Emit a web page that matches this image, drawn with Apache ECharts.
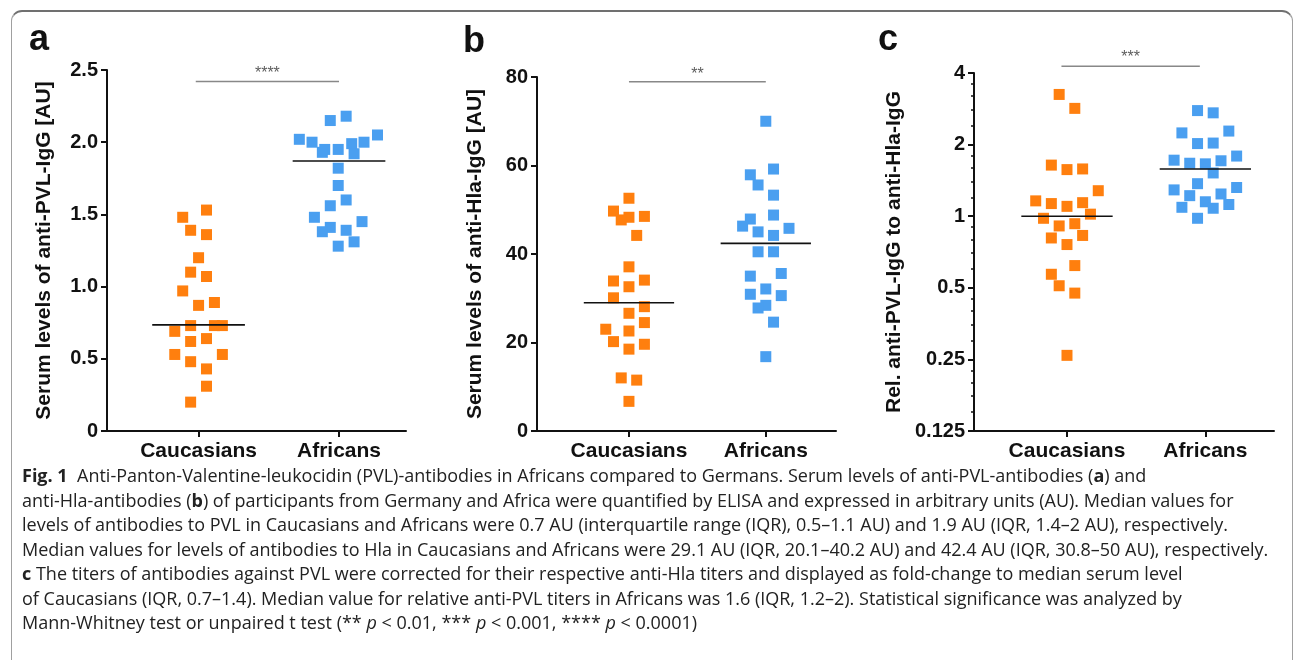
<!DOCTYPE html>
<html>
<head>
<meta charset="utf-8">
<script src="https://cdn.jsdelivr.net/npm/echarts@6.0.0/dist/echarts.min.js"></script>
<style>
  html, body { margin: 0; padding: 0; background: #fff; width: 1295px; height: 660px; overflow: hidden; }
  #frame { position: absolute; left: 11px; top: 10px; width: 1282px; height: 670px; border: 1px solid #a0a0a0; border-top: 2px solid #707070; border-radius: 11px; box-sizing: border-box; }
  #chart { position: absolute; left: 0; top: 0; width: 1295px; height: 470px; }
  #caption { position: absolute; left: 22px; top: 463px; font-family: "Open Sans", "Noto Sans", sans-serif; font-size: 18px; color: #222; white-space: nowrap; }
  #caption div { height: 24.5px; line-height: 24.5px; }
  #caption b { font-weight: 700; }
</style>
</head>
<body>
<div id="frame"></div>
<div id="chart"></div>
<div id="caption">
  <div><b>Fig. 1</b>&nbsp; Anti-Panton-Valentine-leukocidin (PVL)-antibodies in Africans compared to Germans. Serum levels of anti-PVL-antibodies (<b>a</b>) and</div>
  <div>anti-Hla-antibodies (<b>b</b>) of participants from Germany and Africa were quantified by ELISA and expressed in arbitrary units (AU). Median values for</div>
  <div>levels of antibodies to PVL in Caucasians and Africans were 0.7 AU (interquartile range (IQR), 0.5–1.1 AU) and 1.9 AU (IQR, 1.4–2 AU), respectively.</div>
  <div>Median values for levels of antibodies to Hla in Caucasians and Africans were 29.1 AU (IQR, 20.1–40.2 AU) and 42.4 AU (IQR, 30.8–50 AU), respectively.</div>
  <div><b>c</b> The titers of antibodies against PVL were corrected for their respective anti-Hla titers and displayed as fold-change to median serum level</div>
  <div>of Caucasians (IQR, 0.7–1.4). Median value for relative anti-PVL titers in Africans was 1.6 (IQR, 1.2–2). Statistical significance was analyzed by</div>
  <div>Mann-Whitney test or unpaired t test (** <i>p</i> &lt; 0.01, *** <i>p</i> &lt; 0.001, **** <i>p</i> &lt; 0.0001)</div>
</div>
<script>
// ---------------- data ----------------
const categories = ['Caucasians', 'Africans'];
const groupPos = [1, 2];

// Panel a: anti-PVL-IgG [AU]
const pvlCauc     = [1.53, 1.48, 1.39, 1.36, 1.20, 1.10, 1.07, 0.97, 0.89, 0.87, 0.73, 0.73, 0.73, 0.69, 0.62, 0.64, 0.53, 0.53, 0.48, 0.43, 0.31, 0.20];
const pvlCaucSlot = [1, -2, -1, 1, 0, -1, 1, -2, 2, 0, -1, 2, 3, -3, -1, 1, -3, 3, -1, 1, 1, -1];
const pvlAfr      = [2.18, 2.15, 2.05, 2.02, 2.00, 2.00, 1.99, 1.95, 1.95, 1.93, 1.92, 1.82, 1.70, 1.60, 1.56, 1.48, 1.45, 1.41, 1.38, 1.39, 1.31, 1.28];
const pvlAfrSlot  = [0.9, -1.1, 4.85, -5, -3.4, 3.15, 1.6, -1.8, -0.1, -2.1, 1.9, -0.1, -0.1, 0.9, -1.1, -3.1, 2.9, -1.1, -2.1, 0.9, 1.9, -0.1];
const pvlMedian   = [0.735, 1.87];
const pvlSig      = { y: 2.42, from: 0.98, to: 2.0, label: '****', labelY: 2.475 };

// Panel b: anti-Hla-IgG [AU]
const hlaCauc     = [52.6, 49.7, 48.3, 47.7, 48.5, 44.2, 37.1, 33.9, 34.1, 32.6, 30.1, 28.1, 26.6, 24.5, 23.0, 22.6, 20.2, 19.6, 18.5, 12.0, 11.5, 6.7];
const hlaCaucSlot = [0, -2, 0, -1, 2, 1, 0, -2, 2, 0, -2, 2, 0, 2, -3, 0, -2, 2, 0, -1, 1, 0];
const hlaAfr      = [70.0, 59.2, 57.9, 55.6, 53.3, 48.8, 47.9, 46.3, 45.8, 45.0, 44.2, 40.5, 40.5, 35.6, 35.0, 32.1, 30.9, 30.6, 28.4, 27.8, 24.6, 16.8];
const hlaAfrSlot  = [0, 1, -2, -1, 1, 1, -2, -3, 3, -1, 1, -1, 1, 2, -2, 0, -2, 2, 0, -1, 1, 0];
const hlaMedian   = [29.0, 42.4];
const hlaSig      = { y: 78.9, from: 1.0, to: 2.0, label: '**', labelY: 80.6 };

// Panel c: relative anti-PVL-IgG to anti-Hla-IgG (log2 axis)
const relCauc     = [3.25, 2.84, 1.64, 1.57, 1.58, 1.28, 1.16, 1.13, 1.10, 1.14, 1.02, 0.98, 0.91, 0.93, 0.81, 0.83, 0.76, 0.62, 0.57, 0.51, 0.475, 0.26];
const relCaucSlot = [-1, 1, -2, 0, 2, 4, -4, -2, 0, 2, 3, -3, -1, 1, -2, 2, 0, 1, -2, -1, 1, 0];
const relAfr      = [2.78, 2.72, 2.24, 2.28, 2.02, 2.03, 1.72, 1.79, 1.67, 1.66, 1.71, 1.52, 1.37, 1.29, 1.32, 1.22, 1.24, 1.15, 1.09, 1.12, 1.08, 0.98];
const relAfrSlot  = [-1, 1, -3, 3, -1, 1, -4, 4, -2, 0, 2, 1, -1, -4, 4, -2, 2, 0, -3, 3, 1, -1];
const relMedian   = [1.0, 1.58];
const relSig      = { y: 4.27, from: 0.96, to: 1.96, label: '***', labelY: 4.66 };

const yTicksA = [0, 0.5, 1.0, 1.5, 2.0, 2.5];
const yTicksB = [0, 20, 40, 60, 80];
const yTicksC = [0.125, 0.25, 0.5, 1, 2, 4];

// ---------------- styles ----------------
const ORANGE = '#FF7F0E';
const BLUE = '#4A9FF0';
const FONT = '"Liberation Sans", Arial, sans-serif';
const SLOT = 0.0565;
const HALF_MEDIAN = 0.33;

const panels = [
  { grid: { left: 107, top: 70, width: 299, height: 361 }, xMin: 0.348, xMax: 2.477,
    yAxis: { type: 'value', min: 0, max: 2.5, interval: 0.5, name: 'Serum levels of anti-PVL-IgG [AU]', nameGap: 52,
             fmt: v => v === 0 ? '0' : v.toFixed(1) },
    cauc: pvlCauc, caucSlot: pvlCaucSlot, afr: pvlAfr, afrSlot: pvlAfrSlot, median: pvlMedian, sig: pvlSig },
  { grid: { left: 537, top: 77, width: 299, height: 354 }, xMin: 0.328, xMax: 2.513,
    yAxis: { type: 'value', min: 0, max: 80, interval: 20, name: 'Serum levels of anti-Hla-IgG [AU]', nameGap: 51,
             fmt: v => String(v) },
    cauc: hlaCauc, caucSlot: hlaCaucSlot, afr: hlaAfr, afrSlot: hlaAfrSlot, median: hlaMedian, sig: hlaSig },
  { grid: { left: 974, top: 73, width: 300, height: 358 }, xMin: 0.328, xMax: 2.496,
    yAxis: { type: 'log', logBase: 2, min: 0.125, max: 4, name: 'Rel. anti-PVL-IgG to anti-Hla-IgG', nameGap: 69,
             fmt: v => String(Math.round(v * 1000) / 1000) },
    cauc: relCauc, caucSlot: relCaucSlot, afr: relAfr, afrSlot: relAfrSlot, median: relMedian, sig: relSig }
];

const grids = [], xAxes = [], yAxes = [], series = [];
panels.forEach((p, i) => {
  grids.push(Object.assign({ containLabel: false }, p.grid));
  xAxes.push({
    type: 'value', gridIndex: i, min: p.xMin, max: p.xMax,
    splitLine: { show: false },
    axisLine: { show: true, onZero: false, lineStyle: { color: '#111', width: 2 } },
    axisTick: { show: true, customValues: groupPos, length: 6, lineStyle: { color: '#111', width: 2 } },
    axisLabel: { show: true, customValues: groupPos, margin: 10, color: '#111', fontFamily: FONT, fontWeight: 'bold', fontSize: 21,
                 formatter: v => categories[Math.round(v) - 1] || '' }
  });
  const ya = {
    type: p.yAxis.type, gridIndex: i, min: p.yAxis.min, max: p.yAxis.max,
    name: p.yAxis.name, nameLocation: 'middle', nameGap: p.yAxis.nameGap,
    nameTextStyle: { color: '#111', fontFamily: FONT, fontWeight: 'bold', fontSize: 21 },
    splitLine: { show: false },
    axisLine: { show: true, onZero: false, lineStyle: { color: '#111', width: 2 } },
    axisTick: { show: true, length: 6, lineStyle: { color: '#111', width: 2 } },
    axisLabel: { margin: 9, color: '#111', fontFamily: FONT, fontWeight: 'bold', fontSize: 20, formatter: p.yAxis.fmt }
  };
  if (p.yAxis.interval) ya.interval = p.yAxis.interval;
  if (p.yAxis.type === 'log') {
    ya.logBase = p.yAxis.logBase;
    ya.interval = 1;
    ya.minorTick = { show: true, splitNumber: 5, length: 3, lineStyle: { color: '#111', width: 1.5 } };
  }
  yAxes.push(ya);

  const groups = [[p.cauc, p.caucSlot, ORANGE], [p.afr, p.afrSlot, BLUE]];
  groups.forEach((g, gi) => {
    series.push({
      type: 'scatter', xAxisIndex: i, yAxisIndex: i, symbol: 'rect', symbolSize: 11, z: 2,
      itemStyle: { color: g[2], opacity: 1 }, silent: true,
      data: g[0].map((v, k) => [groupPos[gi] + g[1][k] * SLOT, v])
    });
    series.push({
      type: 'line', xAxisIndex: i, yAxisIndex: i, symbol: 'none', z: 5, silent: true, clip: false,
      lineStyle: { color: '#111', width: 1.6 },
      data: [[groupPos[gi] - HALF_MEDIAN, p.median[gi]], [groupPos[gi] + HALF_MEDIAN, p.median[gi]]]
    });
  });
  series.push({
    type: 'line', xAxisIndex: i, yAxisIndex: i, symbol: 'none', z: 5, silent: true, clip: false,
    lineStyle: { color: '#888', width: 1.5 },
    data: [[p.sig.from, p.sig.y], [p.sig.to, p.sig.y]]
  });
  series.push({
    type: 'scatter', xAxisIndex: i, yAxisIndex: i, symbol: 'rect', symbolSize: 1, z: 5, silent: true, clip: false,
    itemStyle: { color: 'rgba(0,0,0,0)' },
    label: { show: true, position: 'inside', formatter: p.sig.label, color: '#333', fontFamily: FONT, fontSize: 16 },
    data: [[(p.sig.from + p.sig.to) / 2, p.sig.labelY]]
  });
});

const letters = [['a', 29, 60], ['b', 463, 62], ['c', 878, 60]];
const chart = echarts.init(document.getElementById('chart'), null, { renderer: 'canvas' });
chart.setOption({
  animation: false,
  grid: grids, xAxis: xAxes, yAxis: yAxes, series: series,
  graphic: letters.map(l => ({
    type: 'text', left: l[1], top: l[2] - 38,
    style: { text: l[0], fontFamily: FONT, fontWeight: 'bold', fontSize: 36, fill: '#111' }
  }))
});
</script>
</body>
</html>
